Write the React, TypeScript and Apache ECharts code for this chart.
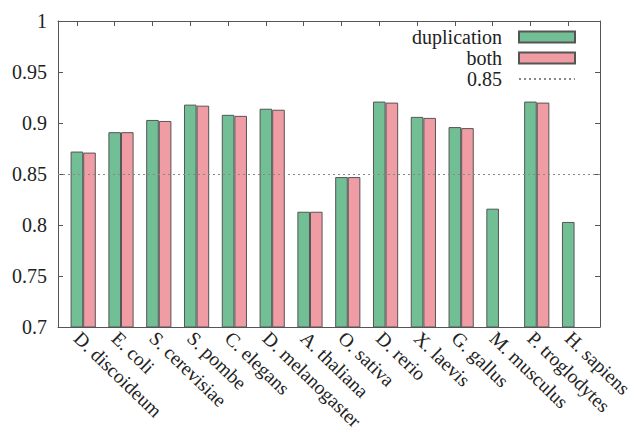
import React, { useEffect, useRef } from "react";
import * as echarts from "echarts";

const CATEGORIES = [
  "D. discoideum", "E. coli", "S. cerevisiae", "S. pombe", "C. elegans",
  "D. melanogaster", "A. thaliana", "O. sativa", "D. rerio", "X. laevis",
  "G. gallus", "M. musculus", "P. troglodytes", "H. sapiens",
];
const DUPLICATION = [0.872, 0.891, 0.903, 0.918, 0.908, 0.914, 0.813, 0.847, 0.921, 0.906, 0.896, 0.816, 0.921, 0.803];
const BOTH: (number | null)[] = [0.871, 0.891, 0.902, 0.917, 0.907, 0.913, 0.813, 0.847, 0.920, 0.905, 0.895, null, 0.920, null];
const THRESHOLD = 0.85;
const Y_MIN = 0.7;
const Y_MAX = 1;
const Y_STEP = 0.05;

const FONT = "Liberation Serif";
const GREEN = "#72bf96";
const PINK = "#f09ca4";
const FRAME = "#555555";
const TEXT = "#222222";

export default function App() {
  const ref = useRef<HTMLDivElement>(null);
  useEffect(() => {
    if (!ref.current) return;
    const chart = echarts.init(ref.current, undefined, { renderer: "svg" });
    const idx = CATEGORIES.map((_, i) => i);
    const xMin = -0.5;
    const xMax = CATEGORIES.length - 1 + 0.84;
    const axisLineCommon = { show: true, onZero: false, lineStyle: { color: FRAME, width: 1 } };
    chart.setOption({
      animation: false,
      backgroundColor: "#ffffff",
      textStyle: { fontFamily: FONT },
      grid: { left: 58, right: 36, top: 21, bottom: 103, containLabel: false, outerBoundsMode: "none" },
      legend: {
        data: [
          { name: "duplication", icon: "rect" },
          { name: "both", icon: "rect" },
          { name: "0.85", itemStyle: { opacity: 0 } },
        ],
        orient: "vertical",
        right: 55,
        top: 22,
        align: "right",
        itemWidth: 56,
        itemHeight: 11,
        itemGap: 1,
        textStyle: { fontFamily: FONT, fontSize: 20, color: TEXT, padding: [0, 12, 0, 0] },
        selectedMode: false,
      },
      xAxis: [
        {
          type: "value",
          position: "bottom",
          min: xMin,
          max: xMax,
          axisLine: axisLineCommon,
          splitLine: { show: false },
          axisTick: { show: true, inside: true, length: 5, customValues: idx, lineStyle: { color: FRAME } },
          axisLabel: {
            customValues: idx,
            formatter: (v: number) => CATEGORIES[Math.round(v)] ?? "",
            rotate: -44,
            margin: 8,
            fontSize: 19.5,
            fontFamily: FONT,
            color: TEXT,
          },
        },
        {
          type: "value",
          position: "top",
          min: xMin,
          max: xMax,
          axisLine: axisLineCommon,
          splitLine: { show: false },
          axisTick: { show: true, inside: true, length: 5, customValues: idx, lineStyle: { color: FRAME } },
          axisLabel: { show: false },
        },
      ],
      yAxis: [
        {
          type: "value",
          position: "left",
          min: Y_MIN,
          max: Y_MAX,
          interval: Y_STEP,
          axisLine: axisLineCommon,
          splitLine: { show: false },
          axisTick: { show: true, inside: true, length: 5, lineStyle: { color: FRAME } },
          axisLabel: {
            formatter: (v: number) => String(Number(v.toFixed(2))),
            fontSize: 20,
            fontFamily: FONT,
            color: TEXT,
            margin: 11,
          },
        },
        {
          type: "value",
          position: "right",
          min: Y_MIN,
          max: Y_MAX,
          interval: Y_STEP,
          axisLine: axisLineCommon,
          splitLine: { show: false },
          axisTick: { show: true, inside: true, length: 5, lineStyle: { color: FRAME } },
          axisLabel: { show: false },
        },
      ],
      series: [
        {
          name: "_pad",
          type: "bar",
          xAxisIndex: 0,
          yAxisIndex: 0,
          barWidth: 12.6,
          barGap: "0%",
          data: [],
        },
        {
          name: "duplication",
          type: "bar",
          xAxisIndex: 0,
          yAxisIndex: 0,
          barWidth: 12.6,
          barGap: "0%",
          itemStyle: { color: GREEN, borderColor: FRAME, borderWidth: 1 },
          data: DUPLICATION.map((v, i) => [i, v]),
        },
        {
          name: "both",
          type: "bar",
          xAxisIndex: 0,
          yAxisIndex: 0,
          barWidth: 12.6,
          barGap: "0%",
          itemStyle: { color: PINK, borderColor: FRAME, borderWidth: 1 },
          data: BOTH.map((v, i) => [i, v]).filter((d) => d[1] !== null),
        },
        {
          name: "0.85",
          type: "line",
          xAxisIndex: 0,
          yAxisIndex: 0,
          symbol: "none",
          color: "#888888",
          lineStyle: { color: "#888888", width: 1, type: [2, 3] },
          data: [],
          z: 5,
          markLine: {
            silent: true,
            symbol: "none",
            label: { show: false },
            lineStyle: { color: "#888888", width: 1, type: [2, 3] },
            data: [{ yAxis: THRESHOLD }],
          },
        },
      ],
    });
    return () => chart.dispose();
  }, []);
  return <div ref={ref} style={{ width: 636, height: 430, position: "absolute", left: 0, top: 0 }} />;
}
